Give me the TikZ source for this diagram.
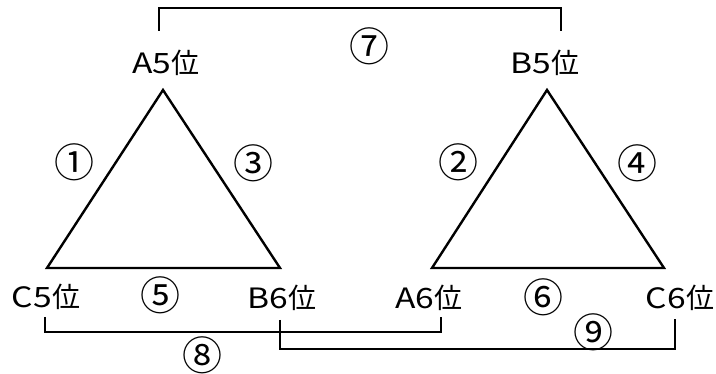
\documentclass[tikz,border=0pt]{standalone}
\usepackage{fontspec}
\setmainfont{Noto Sans CJK JP}
\newfontfamily\widelat[FakeStretch=1.2]{Noto Sans CJK JP}
\begin{document}
\begin{tikzpicture}[x=1pt,y=-1pt,
  lbl/.style={inner sep=0pt,font=\fontsize{28}{28}\selectfont},
  num/.style={inner sep=0pt,font=\fontsize{40}{40}\selectfont},
  tri/.style={line width=2.4pt,line join=miter},
  brk/.style={line width=1.1pt}]
\useasboundingbox (0,0) rectangle (716,374);
% triangle vertices
\coordinate (t1a) at (163,90);
\coordinate (t1l) at (47,268);
\coordinate (t1r) at (280,268);
\coordinate (t2a) at (547,90);
\coordinate (t2l) at (432,268);
\coordinate (t2r) at (664,268);
\draw[tri] (t1a) -- (t1l) -- (t1r) -- cycle;
\draw[tri] (t2a) -- (t2l) -- (t2r) -- cycle;
% labels
\node[lbl] (A5) at (166,63) {{\widelat A5}位};
\node[lbl] (B5) at (545,63) {{\widelat B5}位};
\node[lbl] (C5) at (46,297) {{\widelat C5}位};
\node[lbl] (B6) at (282,298) {{\widelat B6}位};
\node[lbl] (A6) at (429,298) {{\widelat A6}位};
\node[lbl] (C6) at (680,298) {{\widelat C6}位};
% numbers
\node[num] (n1) at (74,162) {①};
\node[num] (n3) at (253,163) {③};
\node[num] (n2) at (458,162) {②};
\node[num] (n4) at (637,163) {④};
\node[num] (n5) at (160,295) {⑤};
\node[num] (n6) at (543,297) {⑥};
\node[num] (n7) at (369,46) {⑦};
\node[num] (n8) at (202,355) {⑧};
\node[num] (n9) at (593,332) {⑨};
% brackets
\coordinate (k7a) at (159,31);
\coordinate (k7b) at (561,31);
\draw[brk] (k7a) -- (159,8) -| (k7b);
\coordinate (k8a) at (45,317);
\coordinate (k8b) at (441,317);
\draw[brk] (k8a) -- (45,332) -| (k8b);
\coordinate (k9a) at (280,320);
\coordinate (k9b) at (675,319);
\draw[brk] (k9a) -- (280,349) -| (k9b);
\end{tikzpicture}
\end{document}
